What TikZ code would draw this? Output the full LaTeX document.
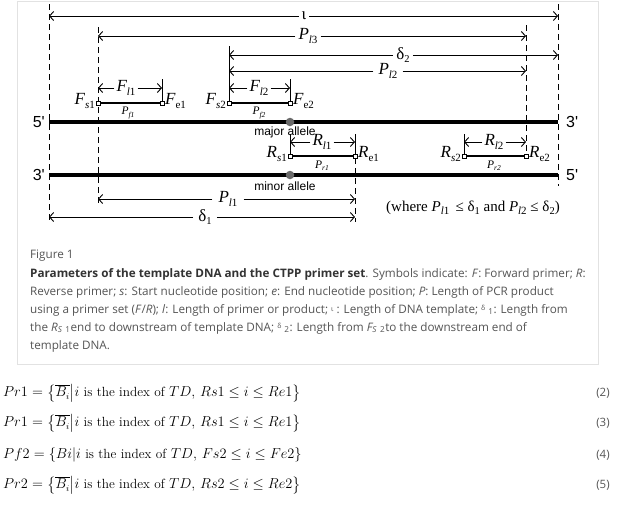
\documentclass[tikz,border=0pt]{standalone}
\usepackage{fontspec}
\usepackage{amsmath}
\usetikzlibrary{arrows.meta}
\newfontfamily\tnr{Liberation Serif}
\newfontfamily\ars{Liberation Sans}
\newfontfamily\osans{Open Sans}
\definecolor{capgray}{HTML}{555555}
\definecolor{capdark}{HTML}{333333}
\definecolor{cardline}{HTML}{E2E2E2}
\definecolor{snpgray}{HTML}{6A6A6A}
\newcommand\sbx[2]{\raisebox{-0.45ex}{\fontsize{11}{11}\selectfont\itshape #1\upshape #2}}
\newcommand\lab[3]{{\itshape #1}\sbx{#2}{#3}}
\newcommand\ssbx[2]{\raisebox{-0.4ex}{\fontsize{7.5}{7.5}\selectfont\itshape #1\upshape #2}}
\newcommand\slab[3]{{\itshape #1}\ssbx{#2}{#3}}
\newcommand\gsub[2]{#1\raisebox{-0.45ex}{\fontsize{10.5}{10.5}\selectfont #2}}
\begin{document}
\begin{tikzpicture}[x=1pt,y=-1pt,
  dim/.style={line width=0.9pt,-{Straight Barb[length=4pt,width=9pt]}},
  vdash/.style={line width=1pt,dash pattern=on 6pt off 4pt},
  vtick/.style={line width=1pt},
  dna/.style={line width=4pt},
  primer/.style={line width=2.3pt},
  sq/.style={draw,fill=white,line width=0.7pt,minimum size=4pt,inner sep=0pt},
  snp/.style={circle,fill=snpgray,minimum size=8.5pt,inner sep=0pt},
  lbl/.style={font=\tnr\fontsize{17}{17}\selectfont,inner sep=3pt},
  elbl/.style={font=\tnr\fontsize{17}{17}\selectfont,inner sep=0pt},
  plbl/.style={font=\tnr\fontsize{11.5}{11.5}\selectfont,inner sep=0pt},
  endlbl/.style={font=\ars\fontsize{16}{16}\selectfont,inner sep=0pt},
  allele/.style={font=\ars\fontsize{12}{12}\selectfont,inner sep=0pt},
  capline/.style={font=\osans\fontsize{11.7}{13}\selectfont,text=capgray,anchor=base west,inner sep=0pt},
  eqline/.style={font=\fontsize{13.3}{16}\selectfont,text=black,anchor=west,inner sep=0pt},
  eqnum/.style={font=\osans\fontsize{11.5}{13}\selectfont,text=capgray,inner sep=0pt}
]
\useasboundingbox (0,0) rectangle (621,507);
\fill[white] (0,0) rectangle (621,507);
\draw[cardline,line width=1pt] (17,1) rectangle (598,364);

% ---- named coordinates
\coordinate (iotaL) at (49,16);   \coordinate (iotaR) at (558,16);
\coordinate (p13L) at (98,36);    \coordinate (p13R) at (526,36);
\coordinate (d2L) at (229,55);    \coordinate (d2R) at (558,55);
\coordinate (p12L) at (229,71);   \coordinate (p12R) at (526,71);
\coordinate (fl1L) at (98,88);    \coordinate (fl1R) at (162,88);
\coordinate (fl2L) at (229,88);   \coordinate (fl2R) at (290,88);
\coordinate (rl1L) at (290,142);  \coordinate (rl1R) at (355,142);
\coordinate (rl2L) at (464,142);  \coordinate (rl2R) at (526,142);
\coordinate (pl1L) at (98,199);   \coordinate (pl1R) at (355,199);
\coordinate (d1L) at (49,217);    \coordinate (d1R) at (355,217);

% ---- vertical guide lines
\coordinate (v1t) at (49,4);    \coordinate (v1b) at (49,222);
\coordinate (v2t) at (98,27);   \coordinate (v2b) at (98,203);
\coordinate (v3t) at (229,46);  \coordinate (v3b) at (229,103);
\coordinate (v4t) at (526,25);  \coordinate (v4b) at (526,156);
\coordinate (v5t) at (558,4);   \coordinate (v5b) at (558,186);
\coordinate (v6t) at (355,158); \coordinate (v6b) at (355,222);
\draw[vdash] (v1t) -- (v1b);
\draw[vdash] (v2t) -- (v2b);
\draw[vtick] (v3t) -- (v3b);
\draw[vdash] (v4t) -- (v4b);
\draw[vdash] (v5t) -- (v5b);
\draw[vdash] (v6t) -- (v6b);
\coordinate (t1t) at (162,79);  \coordinate (t1b) at (162,103);
\coordinate (t2t) at (290,79);  \coordinate (t2b) at (290,103);
\coordinate (t3t) at (290,134); \coordinate (t3b) at (290,156);
\coordinate (t4t) at (355,134); \coordinate (t4b) at (355,158);
\coordinate (t5t) at (464,134); \coordinate (t5b) at (464,156);
\draw[vtick] (t1t) -- (t1b);
\draw[vtick] (t2t) -- (t2b);
\draw[vtick] (t3t) -- (t3b);
\draw[vtick] (t4t) -- (t4b);
\draw[vtick] (t5t) -- (t5b);

% ---- dimension arrows
\node[lbl] (iota) at (304,16) {ι};
\draw[dim] (iota.west) -- (iotaL); \draw[dim] (iota.east) -- (iotaR);
\node[lbl] (pl3) at (308,36) {\lab{P}{l}{3}};
\draw[dim] (pl3.west) -- (p13L); \draw[dim] (pl3.east) -- (p13R);
\node[lbl] (dl2) at (403,55) {\gsub{δ}{2}};
\draw[dim] (dl2.west) -- (d2L); \draw[dim] (dl2.east) -- (d2R);
\node[lbl,inner sep=5pt] (pl2) at (388,71) {\lab{P}{l}{2}};
\draw[dim] (pl2.west) -- (p12L); \draw[dim] (pl2.east) -- (p12R);
\node[lbl,inner sep=2pt] (fl1) at (126,88) {\lab{F}{l}{1}};
\draw[dim] (fl1.west) -- (fl1L); \draw[dim] (fl1.east) -- (fl1R);
\node[lbl,inner sep=2pt] (fl2) at (259,88) {\lab{F}{l}{2}};
\draw[dim] (fl2.west) -- (fl2L); \draw[dim] (fl2.east) -- (fl2R);
\node[lbl,inner sep=2pt] (rl1) at (322,142) {\lab{R}{l}{1}};
\draw[dim] (rl1.west) -- (rl1L); \draw[dim] (rl1.east) -- (rl1R);
\node[lbl,inner sep=2pt] (rl2) at (494,142) {\lab{R}{l}{2}};
\draw[dim] (rl2.west) -- (rl2L); \draw[dim] (rl2.east) -- (rl2R);
\node[lbl,inner sep=6pt] (pl1) at (228,199) {\lab{P}{l}{1}};
\draw[dim] (pl1.west) -- (pl1L); \draw[dim] (pl1.east) -- (pl1R);
\node[lbl,inner sep=5pt] (dl1) at (205,217) {\gsub{δ}{1}};
\draw[dim] (dl1.west) -- (d1L); \draw[dim] (dl1.east) -- (d1R);

% ---- DNA strands
\coordinate (s1L) at (49,122); \coordinate (s1R) at (558,122);
\coordinate (s2L) at (49,175); \coordinate (s2R) at (558,175);
\draw[dna] (s1L) -- (s1R);
\draw[dna] (s2L) -- (s2R);
\node[endlbl,anchor=east] (e5a) at (45,122) {5\textquotesingle};
\node[endlbl,anchor=east] (e3a) at (45,175) {3\textquotesingle};
\node[endlbl,anchor=west] (e3b) at (566,122) {3\textquotesingle};
\node[endlbl,anchor=west] (e5b) at (566,175) {5\textquotesingle};
\node[snp] (maj) at (290,122) {};
\node[snp] (min) at (290,175) {};
\node[allele] (majl) at (285,132.5) {major allele};
\node[allele] (minl) at (285,186) {minor allele};

% ---- primers
\coordinate (Fs1) at (98,103);  \coordinate (Fe1) at (162,103);
\coordinate (Fs2) at (229,103); \coordinate (Fe2) at (290,103);
\coordinate (Rs1) at (290,156); \coordinate (Re1) at (355,156);
\coordinate (Rs2) at (464,156); \coordinate (Re2) at (526,156);
\draw[primer] (Fs1) -- (Fe1);
\draw[primer] (Fs2) -- (Fe2);
\draw[primer] (Rs1) -- (Re1);
\draw[primer] (Rs2) -- (Re2);
\foreach \p in {Fs1,Fe1,Fs2,Fe2,Rs1,Re1,Rs2,Re2} {\node[sq] at (\p) {};}
\node[elbl,anchor=east] (lFs1) at (95,101) {\lab{F}{s}{1}};
\node[elbl,anchor=west] (lFe1) at (165,101) {{\itshape F}\sbx{}{e1}};
\node[elbl,anchor=east] (lFs2) at (226,101) {\lab{F}{s}{2}};
\node[elbl,anchor=west] (lFe2) at (293,101) {{\itshape F}\sbx{}{e2}};
\node[elbl,anchor=east] (lRs1) at (287,154) {\lab{R}{s}{1}};
\node[elbl,anchor=west] (lRe1) at (358,154) {{\itshape R}\sbx{}{e1}};
\node[elbl,anchor=east] (lRs2) at (461,154) {\lab{R}{s}{2}};
\node[elbl,anchor=west] (lRe2) at (529,154) {{\itshape R}\sbx{}{e2}};
\node[plbl] (pf1) at (128,113) {\slab{P}{f1}{}};
\node[plbl] (pf2) at (259,113) {\slab{P}{f2}{}};
\node[plbl] (pr1) at (322,166) {\slab{P}{r1}{}};
\node[plbl] (pr2) at (494,166) {\slab{P}{r2}{}};

\node[font=\tnr\fontsize{15}{15}\selectfont,inner sep=0pt] (where) at (473,208)
  {(where \lab{P}{l}{1} \,≤ \gsub{δ}{1} and \lab{P}{l}{2} ≤ \gsub{δ}{2})};

% ---- caption
\node[capline] (c1) at (30,258) {Figure 1};
\node[capline] (c2) at (30,277) {{\bfseries\color{capdark}Parameters of the template DNA and the CTPP primer set}. Symbols indicate: \textit{F}: Forward primer; \textit{R}:};
\node[capline] (c3) at (30,295) {Reverse primer; \textit{s}: Start nucleotide position; \textit{e}: End nucleotide position; \textit{P}: Length of PCR product};
\node[capline] (c4) at (30,313) {using a primer set (\textit{F}/\textit{R}); \textit{l}: Length of primer or product; \raisebox{.3ex}{\scriptsize ι} : Length of DNA template; \raisebox{.4ex}{\scriptsize δ} \textsubscript{1}: Length from};
\node[capline] (c5) at (30,331) {the \textit{R\textsubscript{S}} \textsubscript{1}end to downstream of template DNA; \raisebox{.4ex}{\scriptsize δ} \textsubscript{2}: Length from \textit{F\textsubscript{S}} \textsubscript{2}to the downstream end of};
\node[capline] (c6) at (30,349) {template DNA.};

% ---- equations
\node[eqline] (eq2) at (3,393) {$Pr1=\bigl\{\overline{B_i}\big|i\text{ is the index of }TD,\,Rs1\le i\le Re1\bigr\}$};
\node[eqline] (eq3) at (3,423) {$Pr1=\bigl\{\overline{B_i}\big|i\text{ is the index of }TD,\,Rs1\le i\le Re1\bigr\}$};
\node[eqline] (eq4) at (3,455) {$Pf2=\{Bi|i\text{ is the index of }TD,\,Fs2\le i\le Fe2\}$};
\node[eqline] (eq5) at (3,485) {$Pr2=\bigl\{\overline{B_i}\big|i\text{ is the index of }TD,\,Rs2\le i\le Re2\bigr\}$};
\node[eqnum] (n2) at (603,393) {(2)};
\node[eqnum] (n3) at (603,423) {(3)};
\node[eqnum] (n4) at (603,455) {(4)};
\node[eqnum] (n5) at (603,485) {(5)};
\end{tikzpicture}
\end{document}
